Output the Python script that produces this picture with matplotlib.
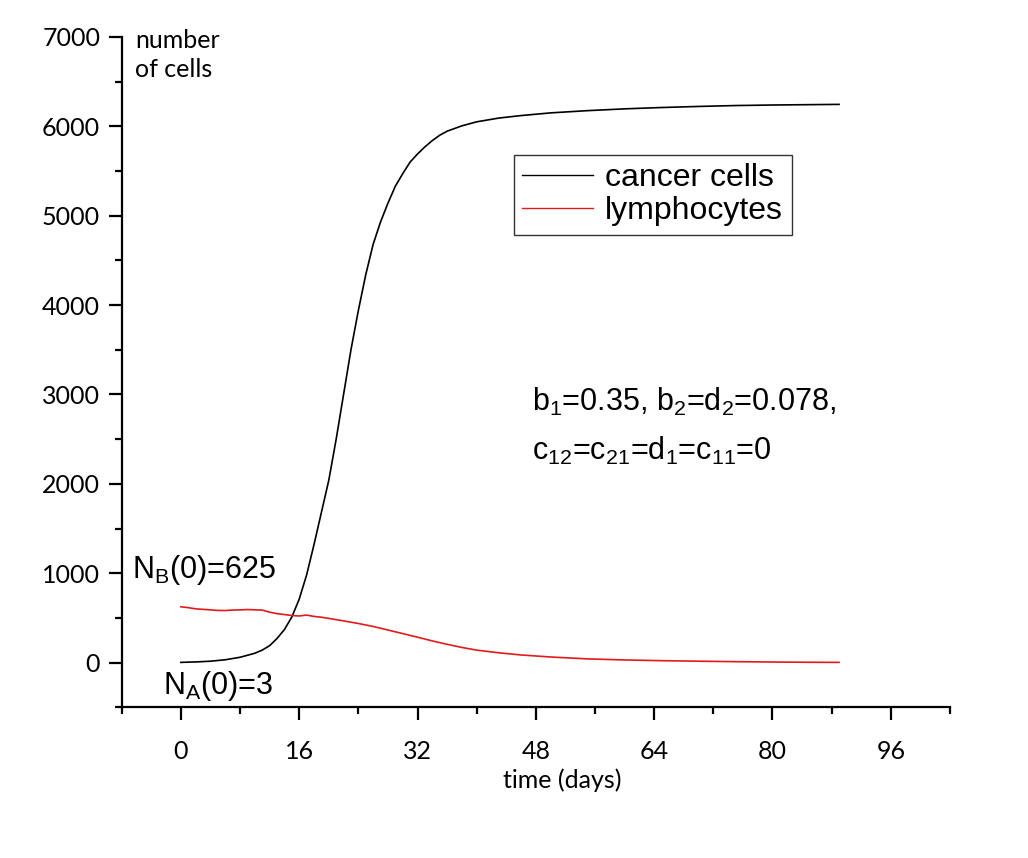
import numpy as np
import matplotlib
matplotlib.use("Agg")
from matplotlib import pyplot as plt
from matplotlib.ticker import MultipleLocator

# values
t_cancer = [0, 2, 4, 6, 8, 10, 11, 12, 13, 14, 15, 16, 17, 18, 19, 20, 21, 22, 23,
            24, 25, 26, 27, 28, 29, 30, 31, 32, 33, 34, 35, 36, 38, 40, 43, 46, 50,
            55, 60, 65, 70, 75, 80, 85, 89]
cancer = [3, 8, 16, 32, 60, 105, 140, 190, 270, 370, 510, 710, 980, 1320, 1680,
          2040, 2500, 3000, 3500, 3940, 4340, 4680, 4930, 5140, 5330, 5470, 5600,
          5690, 5770, 5840, 5900, 5945, 6005, 6050, 6092, 6120, 6150, 6175, 6195,
          6210, 6222, 6232, 6238, 6242, 6245]

t_lymph = [0, 1, 2, 3, 4, 5, 6, 7, 8, 9, 10, 11, 12, 13, 14, 15, 16, 17, 18, 19,
           20, 22, 24, 26, 28, 30, 32, 34, 36, 38, 40, 43, 46, 50, 55, 60, 65, 70,
           75, 80, 85, 89]
lymph = [625, 615, 602, 596, 590, 584, 583, 588, 590, 594, 591, 588, 565, 548, 538,
         527, 522, 532, 517, 508, 495, 467, 438, 405, 365, 325, 285, 243, 205, 170,
         140, 110, 86, 63, 42, 30, 22, 16, 11, 7, 4, 3]

plt.rcParams['mathtext.fontset'] = 'custom'
plt.rcParams['mathtext.rm'] = 'Liberation Sans'
plt.rcParams['mathtext.it'] = 'Liberation Sans:italic'
plt.rcParams['mathtext.bf'] = 'Liberation Sans:bold'

fig = plt.figure(figsize=(10.28, 8.58), dpi=100)
ax = fig.add_axes([0.1184, 0.1756, 0.8057, 0.7814])

ax.plot(t_cancer, cancer, color='black', lw=1.2, label='cancer cells')
ax.plot(t_lymph, lymph, color='#e31a1c', lw=1.2, label='lymphocytes')

ax.set_xlim(-8, 104)
ax.set_ylim(-500, 7000)
ax.xaxis.set_major_locator(MultipleLocator(16))
ax.xaxis.set_minor_locator(MultipleLocator(8))
ax.yaxis.set_major_locator(MultipleLocator(1000))
ax.yaxis.set_minor_locator(MultipleLocator(500))
ax.set_xticks([0, 16, 32, 48, 64, 80, 96])

for s in ['top', 'right']:
    ax.spines[s].set_visible(False)
for s in ['left', 'bottom']:
    ax.spines[s].set_linewidth(1.6)

ax.tick_params(which='major', length=9.5, width=1.6, direction='out')
ax.tick_params(which='minor', length=5, width=1.6, direction='out')
ax.tick_params(axis='x', which='major', pad=14)
ax.tick_params(axis='y', which='major', pad=6)
for lab in ax.get_xticklabels() + ax.get_yticklabels():
    lab.set_fontfamily('Lato')
    lab.set_fontsize(18)

ax.set_xlabel('time (days)', fontfamily='Lato', fontsize=18)
ax.xaxis.set_label_coords(0.532, -0.091)
ax.xaxis.label.set_va('top')

ax.text(-6.2, 7090, 'number\nof cells', fontfamily='Lato', fontsize=18,
        va='top', ha='left', linespacing=1.3, clip_on=False)

ax.text(-6.6, 947, r'N$_\mathrm{B}$(0)=625', fontfamily='Liberation Sans',
        fontsize=22, va='baseline', ha='left')
ax.text(-2.35, -350, r'N$_\mathrm{A}$(0)=3', fontfamily='Liberation Sans',
        fontsize=22, va='baseline', ha='left', clip_on=False)
ax.text(47.5, 2819, r'b$_\mathrm{1}$=0.35, b$_\mathrm{2}$=d$_\mathrm{2}$=0.078,',
        fontfamily='Liberation Sans', fontsize=22, va='baseline', ha='left')
ax.text(47.5, 2267, r'c$_\mathrm{12}$=c$_\mathrm{21}$=d$_\mathrm{1}$=c$_\mathrm{11}$=0',
        fontfamily='Liberation Sans', fontsize=22, va='baseline', ha='left')

leg = ax.legend(loc='upper left', bbox_to_anchor=(0.4736, 0.824), borderaxespad=0,
                fancybox=False, framealpha=1, edgecolor='#333333',
                prop={'family': 'Liberation Sans', 'size': 23},
                handlelength=2.2, handletextpad=0.4, labelspacing=0.1,
                borderpad=0.26)
leg.get_frame().set_linewidth(1.0)
for line in leg.get_lines():
    line.set_linewidth(1.0)

fig.savefig('out.png', dpi=100)
